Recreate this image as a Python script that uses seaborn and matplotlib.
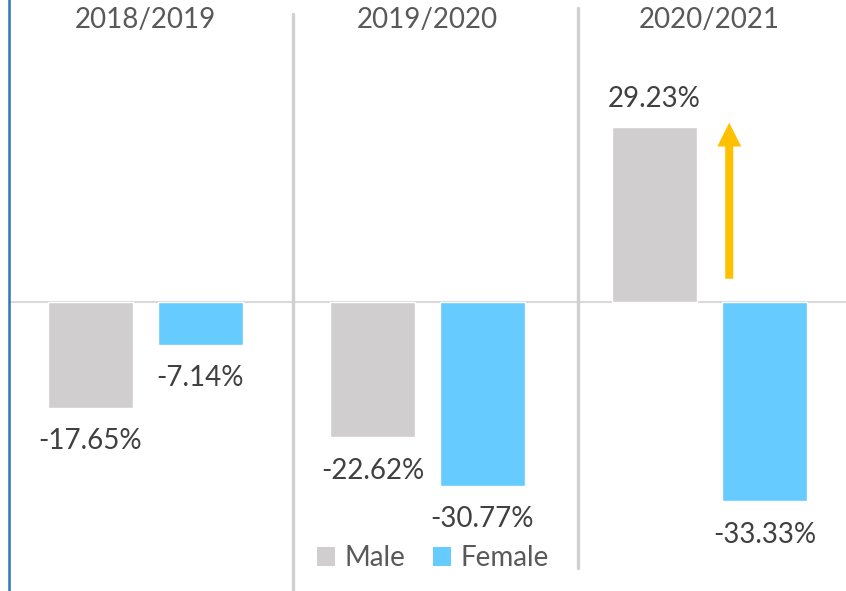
import pandas as pd
import matplotlib.pyplot as plt
import seaborn as sns
from matplotlib.patches import Patch

# ------------------------
# data (percent change per year)
# ------------------------
periods = ["2018/2019", "2019/2020", "2020/2021"]
male = [-17.65, -22.62, 29.23]
female = [-7.14, -30.77, -33.33]
sexes = ["Male", "Female"]
colors = ["#D0CECE", "#66CCFF"]

df = pd.DataFrame({
    "period": periods * 2,
    "change": male + female,
    "sex": ["Male"] * 3 + ["Female"] * 3,
})

sns.set_style("white")
plt.rcParams["font.family"] = ["Lato", "DejaVu Sans"]
txt_color = "#595959"

fig = plt.figure(figsize=(8.46, 5.91), dpi=100)
ax = fig.add_axes([9 / 846, 0, 1 - 9 / 846, 1])

sns.barplot(data=df, x="period", y="change", hue="sex", hue_order=sexes,
            palette=colors, width=0.78, gap=0.227, saturation=1,
            legend=False, ax=ax)

ax.set_xlim(-0.484, 2.484)
ax.set_ylim(-48.3, 50.5)
ax.set_xlabel("")
ax.set_ylabel("")
ax.set_xticks([])
ax.set_yticks([])
for s in ["top", "right", "bottom"]:
    ax.spines[s].set_visible(False)
ax.spines["left"].set_color("#2E75B6")
ax.spines["left"].set_linewidth(1.8)

# baseline + separators
ax.axhline(0, color="#D9D9D9", lw=1.5, zorder=0)
ax.axvline(0.523, ymin=0, ymax=0.976, color="#D0D0D0", lw=2.4, zorder=0)
ax.axvline(1.533, ymin=0.039, ymax=0.986, color="#D0D0D0", lw=2.4, zorder=0)

# period titles
for i, p in enumerate(periods):
    ax.text(i, 0.966, p, transform=ax.get_xaxis_transform(), ha="center",
            va="center", fontsize=20, color=txt_color)

# value labels
for cont in ax.containers:
    for bar in cont:
        v = bar.get_height()
        xc = bar.get_x() + bar.get_width() / 2
        off = 20 if v > 0 else -24
        ax.annotate(f"{v:.2f}%", (xc, v), xytext=(0, off),
                    textcoords="offset points", ha="center", va="center",
                    fontsize=20, color="#404040")

# arrow
ax.annotate("", xy=(2.07, 30.0), xytext=(2.07, 3.9),
            arrowprops=dict(arrowstyle="simple,head_width=0.86,head_length=0.86,tail_width=0.29",
                            mutation_scale=20, facecolor="#FFC000", edgecolor="none",
                            lw=0, shrinkA=0, shrinkB=0))

# legend
handles = [Patch(facecolor=c, edgecolor="none", label=s) for s, c in zip(sexes, colors)]
ax.legend(handles=handles, loc="center", bbox_to_anchor=(424 / 837, 1 - 558 / 591),
          ncol=2, frameon=False, fontsize=20, handlelength=0.65, handleheight=0.65,
          handletextpad=0.35, columnspacing=1.0, labelcolor=txt_color)

fig.savefig("out.png", dpi=100)
